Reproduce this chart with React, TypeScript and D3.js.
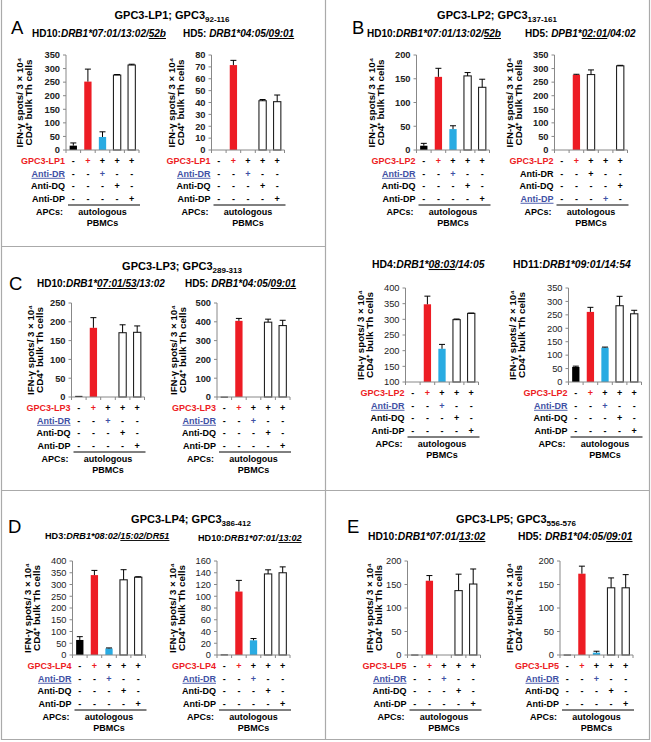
import React from 'react';
import * as d3 from 'd3';

// treatment matrix (columns = bars)
const lpSigns = ['-', '+', '+', '+', '+'];
const drSigns = ['-', '-', '+', '-', '-'];
const dqSigns = ['-', '-', '-', '+', '-'];
const dpSigns = ['-', '-', '-', '-', '+'];
const dqSignsSwap = ['-', '-', '-', '-', '+'];
const dpSignsSwap = ['-', '-', '-', '+', '-'];

// IFN-gamma spots (mean, upper error)
const lp1HD10 = [16, 252, 48, 276, 313];
const lp1HD10Err = [10, 46, 19, 2, 3];
const lp1HD5 = [0, 71.5, 0, 41.5, 40.7];
const lp1HD5Err = [0, 4, 0, 1, 5.6];
const lp2HD10 = [9, 154, 44, 156, 132];
const lp2HD10Err = [5, 18, 7, 7, 17];
const lp2HD5 = [0, 277, 278, 0, 310];
const lp2HD5Err = [0, 2, 17, 0, 2];
const lp2HD4 = [100, 348, 206, 299, 319];
const lp2HD4Err = [0, 26, 14, 2, 1];
const lp2HD11 = [56, 261, 128, 284, 254];
const lp2HD11Err = [3, 17, 2, 35, 13];
const lp3HD10 = [3, 184, 0, 171, 172];
const lp3HD10Err = [0, 27, 0, 21, 17];
const lp3HD5 = [2, 405, 0, 398, 380];
const lp3HD5Err = [0, 13, 0, 16, 28];
const lp4HD3 = [64, 340, 28, 320, 331];
const lp4HD3Err = [14, 20, 2, 43, 2];
const lp4HD10 = [1, 108, 25, 138, 140];
const lp4HD10Err = [0, 19, 3, 7, 10];
const lp5HD10 = [1, 158, 0, 137, 151];
const lp5HD10Err = [0, 11, 0, 35, 32];
const lp5HD5 = [1, 173, 5, 143, 143];
const lp5HD5Err = [0, 16, 3, 21, 28];

const FONT = 'Liberation Sans, Arial, sans-serif';
const RED = '#ed1c24';
const BLUE = '#29abe2';
const ABLUE = '#3f51a5';
const STEP = 14.6;

type Spec = {
  peptide: string; values: number[]; errors: number[];
  dq: string[]; dp: string[]; mark: 'DR' | 'DP'; cells: string;
  domain: [number, number]; step: number;
  x: number; top: number; bottom: number; lab: [number, number]; boldTicks: boolean;
};

const charts: Spec[] = [
  { peptide: 'GPC3-LP1', values: lp1HD10, errors: lp1HD10Err, dq: dqSigns, dp: dpSigns, mark: 'DR', cells: '3', domain: [0, 350], step: 50, x: 66, top: 55, bottom: 150, lab: [-46, -37], boldTicks: true },
  { peptide: 'GPC3-LP1', values: lp1HD5, errors: lp1HD5Err, dq: dqSigns, dp: dpSigns, mark: 'DR', cells: '3', domain: [0, 80], step: 10, x: 211.5, top: 55, bottom: 150, lab: [-40, -31], boldTicks: true },
  { peptide: 'GPC3-LP2', values: lp2HD10, errors: lp2HD10Err, dq: dqSigns, dp: dpSigns, mark: 'DR', cells: '3', domain: [0, 200], step: 50, x: 416.5, top: 55, bottom: 150, lab: [-45, -36], boldTicks: true },
  { peptide: 'GPC3-LP2', values: lp2HD5, errors: lp2HD5Err, dq: dqSignsSwap, dp: dpSignsSwap, mark: 'DP', cells: '3', domain: [0, 350], step: 50, x: 554.5, top: 55, bottom: 150, lab: [-45, -36], boldTicks: true },
  { peptide: 'GPC3-LP2', values: lp2HD4, errors: lp2HD4Err, dq: dqSigns, dp: dpSigns, mark: 'DR', cells: '3', domain: [100, 400], step: 50, x: 405.5, top: 288, bottom: 382, lab: [-45, -36], boldTicks: false },
  { peptide: 'GPC3-LP2', values: lp2HD11, errors: lp2HD11Err, dq: dqSigns, dp: dpSigns, mark: 'DR', cells: '2', domain: [0, 350], step: 50, x: 568.5, top: 288, bottom: 382, lab: [-56, -47], boldTicks: false },
  { peptide: 'GPC3-LP3', values: lp3HD10, errors: lp3HD10Err, dq: dqSigns, dp: dpSigns, mark: 'DR', cells: '3', domain: [0, 250], step: 50, x: 71.5, top: 303, bottom: 397, lab: [-41, -32], boldTicks: true },
  { peptide: 'GPC3-LP3', values: lp3HD5, errors: lp3HD5Err, dq: dqSigns, dp: dpSigns, mark: 'DR', cells: '3', domain: [0, 500], step: 100, x: 217, top: 303, bottom: 397, lab: [-43, -34], boldTicks: true },
  { peptide: 'GPC3-LP4', values: lp4HD3, errors: lp4HD3Err, dq: dqSigns, dp: dpSigns, mark: 'DR', cells: '3', domain: [0, 400], step: 50, x: 72.5, top: 561, bottom: 655, lab: [-45, -36], boldTicks: false },
  { peptide: 'GPC3-LP4', values: lp4HD10, errors: lp4HD10Err, dq: dqSigns, dp: dpSigns, mark: 'DR', cells: '3', domain: [0, 160], step: 20, x: 217, top: 561, bottom: 655, lab: [-44, -35], boldTicks: false },
  { peptide: 'GPC3-LP5', values: lp5HD10, errors: lp5HD10Err, dq: dqSigns, dp: dpSigns, mark: 'DR', cells: '3', domain: [0, 200], step: 50, x: 407.5, top: 561, bottom: 655, lab: [-38, -29], boldTicks: false },
  { peptide: 'GPC3-LP5', values: lp5HD5, errors: lp5HD5Err, dq: dqSigns, dp: dpSigns, mark: 'DR', cells: '3', domain: [0, 200], step: 50, x: 560, top: 561, bottom: 655, lab: [-50, -41], boldTicks: false },
];

type Seg = [string, boolean, boolean]; // text, italic, underline
const titles = [
  { x: 172, y: 19, main: 'GPC3-LP1; GPC3', sub: '92-116' },
  { x: 497, y: 19, main: 'GPC3-LP2; GPC3', sub: '137-161' },
  { x: 182, y: 270, main: 'GPC3-LP3; GPC3', sub: '289-313' },
  { x: 191, y: 523, main: 'GPC3-LP4; GPC3', sub: '386-412' },
  { x: 516, y: 523, main: 'GPC3-LP5; GPC3', sub: '556-576' },
];
const letters = [
  { t: 'A', x: 11, y: 34 }, { t: 'B', x: 352, y: 34 }, { t: 'C', x: 9, y: 290 },
  { t: 'D', x: 8, y: 533 }, { t: 'E', x: 347, y: 533 },
];
const subtitles: { x: number; y: number; size: number; segs: Seg[] }[] = [
  { x: 32, y: 37, size: 10, segs: [['HD10:', false, false], ['DRB1*07:01/13:02/', true, false], ['52b', true, true]] },
  { x: 183, y: 37, size: 10, segs: [['HD5: ', false, false], ['DRB1*04:05/', true, false], ['09:01', true, true]] },
  { x: 367, y: 37, size: 10, segs: [['HD10:', false, false], ['DRB1*07:01/13:02/', true, false], ['52b', true, true]] },
  { x: 525, y: 37, size: 10, segs: [['HD5: ', false, false], ['DPB1*', true, false], ['02:01', true, true], ['/04:02', true, false]] },
  { x: 372, y: 268, size: 10.4, segs: [['HD4:', false, false], ['DRB1*', true, false], ['08:03', true, true], ['/14:05', true, false]] },
  { x: 513, y: 268, size: 10.4, segs: [['HD11:', false, false], ['DRB1*09:01/14:54', true, false]] },
  { x: 37, y: 287, size: 10, segs: [['HD10:', false, false], ['DRB1*', true, false], ['07:01/53', true, true], ['/13:02', true, false]] },
  { x: 185, y: 287, size: 10, segs: [['HD5: ', false, false], ['DRB1*04:05/', true, false], ['09:01', true, true]] },
  { x: 45, y: 539, size: 9.1, segs: [['HD3:', false, false], ['DRB1*08:02/', true, false], ['15:02/DR51', true, true]] },
  { x: 198, y: 541, size: 9.1, segs: [['HD10:', false, false], ['DRB1*07:01/', true, false], ['13:02', true, true]] },
  { x: 368, y: 540, size: 10.3, segs: [['HD10:', false, false], ['DRB1*07:01/', true, false], ['13:02', true, true]] },
  { x: 518, y: 540, size: 10.3, segs: [['HD5: ', false, false], ['DRB1*04:05/', true, false], ['09:01', true, true]] },
];

function Chart({ c }: { c: Spec }) {
  const y = d3.scaleLinear().domain(c.domain).range([c.bottom, c.top]);
  const x = d3.scaleBand<number>().domain(d3.range(5)).range([c.x, c.x + 5 * STEP]).paddingInner(0.5).paddingOuter(0.25);
  const bw = x.bandwidth();
  const ticks = d3.range(c.domain[0], c.domain[1] + 1e-6, c.step);
  const mid = (c.top + c.bottom) / 2;
  const marked = c.mark === 'DR' ? drSigns : c.dp;
  const fill = (i: number) => {
    if (lpSigns[i] === '-') return '#000';
    if (drSigns[i] === '-' && c.dq[i] === '-' && c.dp[i] === '-') return RED;
    if (marked[i] === '+') return BLUE;
    return '#fff';
  };
  const rows = [
    { label: c.peptide, signs: lpSigns, color: RED, hl: false, lp: true },
    { label: 'Anti-DR', signs: drSigns, color: c.mark === 'DR' ? ABLUE : '#000', hl: c.mark === 'DR', lp: false },
    { label: 'Anti-DQ', signs: c.dq, color: '#000', hl: false, lp: false },
    { label: 'Anti-DP', signs: c.dp, color: c.mark === 'DP' ? ABLUE : '#000', hl: c.mark === 'DP', lp: false },
  ];
  const rowY = [11, 23.5, 36, 48.5];
  const cx = (i: number) => (x(i) as number) + bw / 2;
  return (
    <g fontFamily={FONT}>
      <text transform={`translate(${c.x + c.lab[0]},${mid}) rotate(-90)`} textAnchor="middle" dominantBaseline="central"
        fontSize={8.5} fontWeight="bold" textLength={90} lengthAdjust="spacingAndGlyphs">
        {`IFN-γ spots/ ${c.cells} × 10⁴`}
      </text>
      <text transform={`translate(${c.x + c.lab[1]},${mid}) rotate(-90)`} textAnchor="middle" dominantBaseline="central"
        fontSize={8.5} fontWeight="bold" textLength={86} lengthAdjust="spacingAndGlyphs">
        CD4⁺ bulk Th cells
      </text>
      {ticks.map(t => (
        <g key={t}>
          <line x1={c.x - 3} x2={c.x} y1={y(t)} y2={y(t)} stroke="#888" />
          <text x={c.x - 6} y={y(t) + 3.3} textAnchor="end" fontSize={9.3} fontWeight={c.boldTicks ? 'bold' : 'normal'} fill="#222">{t}</text>
        </g>
      ))}
      <line x1={c.x} x2={c.x} y1={c.top} y2={c.bottom} stroke="#888" />
      {c.values.map((v, i) => v > c.domain[0] ? (
        <rect key={i} x={x(i)} y={y(v)} width={bw} height={Math.max(1, y(c.domain[0]) - y(v))}
          fill={fill(i)} stroke={fill(i) === '#fff' ? '#222' : 'none'} strokeWidth={1.1} />
      ) : null)}
      {c.errors.map((e, i) => e > 0 ? (
        <g key={i} stroke="#000" strokeWidth={1}>
          <line x1={cx(i)} x2={cx(i)} y1={y(c.values[i])} y2={y(c.values[i] + e)} />
          <line x1={cx(i) - 3} x2={cx(i) + 3} y1={y(c.values[i] + e)} y2={y(c.values[i] + e)} />
        </g>
      ) : null)}
      <line x1={c.x} x2={c.x + 5 * STEP} y1={c.bottom} y2={c.bottom} stroke="#888" />
      {d3.range(6).map(k => (
        <line key={k} x1={c.x + k * STEP} x2={c.x + k * STEP} y1={c.bottom} y2={c.bottom + 3} stroke="#888" />
      ))}
      {rows.map((r, ri) => (
        <g key={ri} fontSize={9} fontWeight="bold">
          <text x={c.x - 1} y={c.bottom + rowY[ri] + 3.3} textAnchor="end" fill={r.lp ? RED : r.color}
            style={{ textDecoration: r.hl ? 'underline' : 'none' }}>{r.label}</text>
          {r.signs.map((s, i) => (
            <text key={i} x={cx(i)} y={c.bottom + rowY[ri] + 3.3} textAnchor="middle"
              fill={s === '+' && ((r.lp && fill(i) === RED) || r.hl) ? (r.lp ? RED : ABLUE) : '#000'}>{s}</text>
          ))}
        </g>
      ))}
      <line x1={c.x + 2} x2={c.x + 5 * STEP + 1} y1={c.bottom + 55} y2={c.bottom + 55} stroke="#000" strokeWidth={1} />
      <g fontSize={9} fontWeight="bold">
        <text x={c.x - 3} y={c.bottom + 65} textAnchor="end">APCs:</text>
        <text x={cx(2)} y={c.bottom + 65} textAnchor="middle">autologous</text>
        <text x={cx(2)} y={c.bottom + 76} textAnchor="middle">PBMCs</text>
      </g>
    </g>
  );
}

export default function App() {
  return (
    <svg width={651} height={742} style={{ position: 'absolute', left: 0, top: 0, background: '#fff' }} fontFamily={FONT}>
      <g stroke="#aaa" strokeWidth={1.2}>
        <line x1={1.5} x2={1.5} y1={0} y2={740} />
        <line x1={649.5} x2={649.5} y1={0} y2={740} />
        <line x1={1} x2={650} y1={739.5} y2={739.5} />
        <line x1={325.5} x2={325.5} y1={0} y2={740} />
        <line x1={1} x2={325} y1={246.5} y2={246.5} />
        <line x1={1} x2={650} y1={490.5} y2={490.5} />
      </g>
      {titles.map((t, i) => (
        <text key={i} x={t.x} y={t.y} textAnchor="middle" fontSize={11} fontWeight="bold">
          {t.main}<tspan dy={3} fontSize={8}>{t.sub}</tspan>
        </text>
      ))}
      {letters.map(l => (
        <text key={l.t} x={l.x} y={l.y} fontSize={18.5}>{l.t}</text>
      ))}
      {subtitles.map((s, i) => (
        <text key={i} x={s.x} y={s.y} fontSize={s.size} fontWeight="bold">
          {s.segs.map((g, j) => (
            <tspan key={j} fontStyle={g[1] ? 'italic' : 'normal'} style={{ textDecoration: g[2] ? 'underline' : 'none' }}>{g[0]}</tspan>
          ))}
        </text>
      ))}
      {charts.map((c, i) => <Chart key={i} c={c} />)}
    </svg>
  );
}
